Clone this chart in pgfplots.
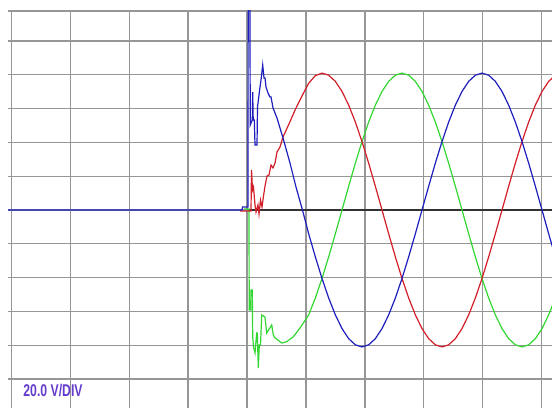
\documentclass[border=0pt]{standalone}
\usepackage{fontspec}
\setmainfont{Liberation Sans}
\usepackage{graphicx}
\usepackage{pgfplots}
\pgfplotsset{compat=1.18}
\definecolor{gridgray}{RGB}{150,150,150}
\definecolor{trblue}{RGB}{30,30,190}
\definecolor{trred}{RGB}{210,30,40}
\definecolor{trgreen}{RGB}{50,215,50}
\definecolor{zeroline}{RGB}{50,50,50}
\definecolor{txtpurple}{RGB}{100,60,205}
\begin{document}
\begin{tikzpicture}
\begin{axis}[
  name=ax,
  scale only axis,
  width=272pt, height=198.5pt,
  xmin=-381, xmax=435,
  ymin=-117.15, ymax=117.75,
  xtick={-375.8,-287.5,-199.1,-110.8,-22.4,66.0,154.3,242.7,331.0,419.4},
  ytick={-100,-80,-60,-40,-20,0,20,40,60,80,100},
  xticklabel=\empty, yticklabel=\empty,
  tick style={draw=none},
  grid=major,
  major grid style={draw=gridgray, line width=0.65pt},
  axis line style={draw=none},
  clip=true,
]
\draw[gridgray, line width=0.65pt] (rel axis cs:0,1) -- (rel axis cs:1,1);
% zero reference line
\addplot[zeroline, line width=0.65pt] coordinates {(-21,0) (440,0)};
% green phase
\addplot[trgreen, line width=0.6pt] coordinates {
(-27,0.6) (-19.5,0.6) (-19.2,-59.2) (-17,-59.2) (-16.5,-47.3) (-14.55,-47.3)
(-13.95,-75.1) (-12.75,-81.1) (-10.5,-84.6) (-7.95,-72.8) (-7.05,-72.8)
(-5.55,-93.5) (-4.05,-79.9) (-2.25,-79.9) (-0.45,-62.1) (4.5,-63.3) (7.05,-72.8)
(14.55,-68.0) (16.95,-74.0) (19.5,-75.7) (24,-76.9) (29.55,-78.7) (37.05,-77.9)
(46.95,-75.0) (57,-69.8)
(70,-62.05) (80,-52.07) (90,-40.50) (100,-27.70) (110,-14.06) (120,0)
(130,14.06) (140,27.70) (150,40.50) (160,52.07) (170,62.05) (180,70.15)
(190,76.12) (200,79.77) (210,81) (220,79.77) (230,76.12) (240,70.15)
(250,62.05) (260,52.07) (270,40.50) (280,27.70) (290,14.06) (300,0)
(310,-14.06) (320,-27.70) (330,-40.50) (340,-52.07) (350,-62.05) (360,-70.15)
(370,-76.12) (380,-79.77) (390,-81) (400,-79.77) (410,-76.12) (420,-70.15)
(430,-62.05) (440,-52.07)
};
% red phase
\addplot[trred, line width=0.6pt] coordinates {
(-33,-0.6) (-16.5,-0.6) (-15.75,23.7) (-14.25,11.8) (-12.75,13.6) (-10.5,3.0)
(-9,-1.2) (-6,3.0) (-4.5,-2.4) (-2.25,5.9) (0,1.8) (2.25,8.3) (4.5,14.2)
(7.5,20.1) (10.5,20.7) (13.5,26.6) (16.5,24.9) (19.5,27.8) (22.5,34.3)
(27,37.3) (31.5,43.2)
(40,50.5) (50,59.5) (60,67.5) (70,75) (80,79.5)
(90,81) (100,79.77) (110,76.12) (120,70.15) (130,62.05) (140,52.07)
(150,40.50) (160,27.70) (170,14.06) (180,0) (190,-14.06) (200,-27.70)
(210,-40.50) (220,-52.07) (230,-62.05) (240,-70.15) (250,-76.12) (260,-79.77)
(270,-81) (280,-79.77) (290,-76.12) (300,-70.15) (310,-62.05) (320,-52.07)
(330,-40.50) (340,-27.70) (350,-14.06) (360,0) (370,14.06) (380,27.70)
(390,40.50) (400,52.07) (410,62.05) (420,70.15) (430,76.12) (440,79.77)
};
% blue phase
\addplot[trblue, line width=0.6pt] coordinates {
(-390,0) (-30,0) (-29.25,1.8) (-21,1.8) (-20.7,140) (-18.3,140)
(-17.6,50.3) (-14.55,53.3) (-13.95,69.8) (-13.2,53.3) (-11.55,53.3)
(-10.5,38.5) (-7.5,38.5) (-6.75,60.9) (-3,72.8) (-1.5,76.9) (1.05,85.8)
(3,78.1) (4.5,78.1) (6,72.8) (9,69.2) (12,66.9) (13.5,66.9) (16.5,60.4)
(22.5,54.4) (27,48.5) (31.5,42.6) (42,27.8) (51,13.6) (61.5,-1.2)
(70,-14.06) (80,-27.70) (90,-40.50) (100,-52.07) (110,-62.05) (120,-70.15)
(130,-76.12) (140,-79.77) (150,-81) (160,-79.77) (170,-76.12) (180,-70.15)
(190,-62.05) (200,-52.07) (210,-40.50) (220,-27.70) (230,-14.06) (240,0)
(250,14.06) (260,27.70) (270,40.50) (280,52.07) (290,62.05) (300,70.15)
(310,76.12) (320,79.77) (330,81) (340,79.77) (350,76.12) (360,70.15)
(370,62.05) (380,52.07) (390,40.50) (400,27.70) (410,14.06) (420,0)
(430,-14.06) (440,-27.70)
};
\node[anchor=base west, inner sep=0pt, text=txtpurple,
  font=\bfseries\fontsize{8.5}{10}\selectfont]
  at (axis cs:-358.5,-110.6) {\scalebox{0.72}[1]{20.0 V/DIV}};
\end{axis}
\pgfresetboundingbox
\path ([xshift=-4pt]ax.south west) rectangle ([yshift=5.5pt]ax.north east);
\end{tikzpicture}
\end{document}
